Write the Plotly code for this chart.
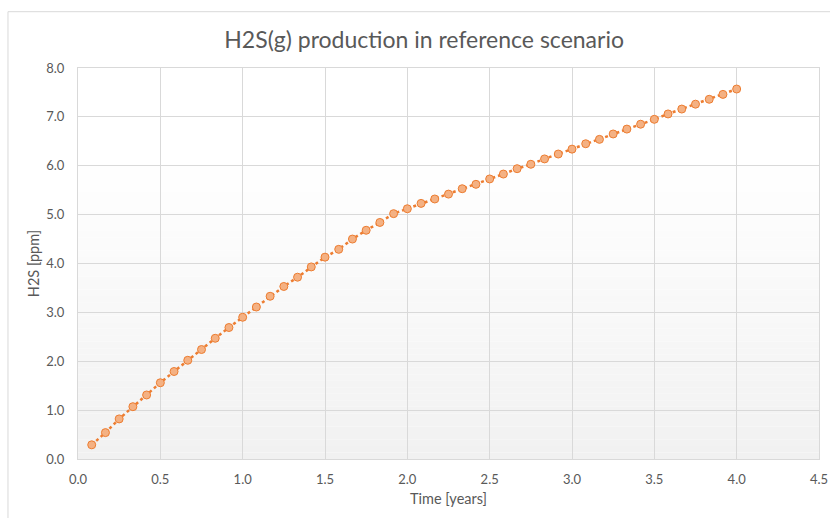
import plotly.graph_objects as go

# Monthly time steps (years) and H2S production (ppm)
time_years = [k / 12 for k in range(1, 49)]
h2s_ppm = [
    0.29, 0.54, 0.82, 1.07, 1.31, 1.56, 1.79, 2.02, 2.24, 2.47, 2.69, 2.90,
    3.11, 3.33, 3.53, 3.72, 3.93, 4.13, 4.29, 4.50, 4.68, 4.84, 5.02, 5.12,
    5.23, 5.32, 5.42, 5.53, 5.62, 5.73, 5.83, 5.94, 6.03, 6.14, 6.24, 6.34,
    6.45, 6.54, 6.65, 6.75, 6.85, 6.95, 7.06, 7.16, 7.26, 7.36, 7.46, 7.57,
]

x_ticks = [0.0, 0.5, 1.0, 1.5, 2.0, 2.5, 3.0, 3.5, 4.0, 4.5]
y_ticks = [0.0, 1.0, 2.0, 3.0, 4.0, 5.0, 6.0, 7.0, 8.0]

FONT = "Lato, 'Open Sans', sans-serif"
TEXT = "#595959"
GRID = "#d9d9d9"

fig = go.Figure()
fig.add_trace(go.Scatter(
    x=time_years, y=h2s_ppm, mode="lines+markers",
    line=dict(color="#ED7D31", width=2.5, dash="dot"),
    marker=dict(symbol="circle", size=8, color="#F4B183",
                line=dict(color="#ED7D31", width=1)),
    showlegend=False, cliponaxis=False,
))

# Vertical gradient behind the plot area: white at top to light gray at bottom
shapes = []
n = 60
for i in range(n):
    f = (i + 0.5) / n  # 0 at bottom, 1 at top
    v = round(241 + 14 * min(1.0, f * 1.3))
    shapes.append(dict(
        type="rect", xref="x domain", yref="y domain",
        x0=0, x1=1, y0=i / n, y1=(i + 1) / n,
        fillcolor=f"rgb({v},{v},{v})", line=dict(width=0), layer="below",
    ))

# Outer chart border
shapes.append(dict(
    type="rect", xref="paper", yref="paper",
    x0=-0.0945, x1=1.3, y0=-0.4, y1=1.144,
    line=dict(color=GRID, width=1), fillcolor="rgba(0,0,0,0)", layer="above",
))

fig.update_layout(
    width=830, height=518,
    margin=dict(l=78, r=11, t=68, b=59, autoexpand=False),
    paper_bgcolor="white", plot_bgcolor="white",
    font=dict(family=FONT, color=TEXT, size=13),
    title=dict(text="H2S(g) production in reference scenario",
               x=0.511, xref="container", xanchor="center",
               y=1 - 40 / 518, yref="container", yanchor="middle",
               font=dict(size=23, color=TEXT, family=FONT)),
    shapes=shapes,
    xaxis=dict(range=[0, 4.5], tickvals=x_ticks,
               ticktext=[f"{v:.1f}" for v in x_ticks],
               showgrid=True, gridcolor=GRID, gridwidth=1,
               showline=True, linecolor=GRID, mirror=True, zeroline=False,
               ticks="", ticklabelstandoff=8, automargin=False,
               tickfont=dict(size=13, color=TEXT),
               title=dict(text="Time [years]", font=dict(size=14.5, color=TEXT),
                          standoff=8)),
    yaxis=dict(range=[0, 8], tickvals=y_ticks,
               ticktext=[f"{v:.1f}" for v in y_ticks],
               showgrid=True, gridcolor=GRID, gridwidth=1,
               showline=True, linecolor=GRID, mirror=True, zeroline=False,
               ticks="", ticklabelstandoff=10, automargin=False,
               tickfont=dict(size=13, color=TEXT),
               title=dict(text="H2S [ppm]", font=dict(size=14.5, color=TEXT),
                          standoff=3)),
)

fig.write_html("out.html")
